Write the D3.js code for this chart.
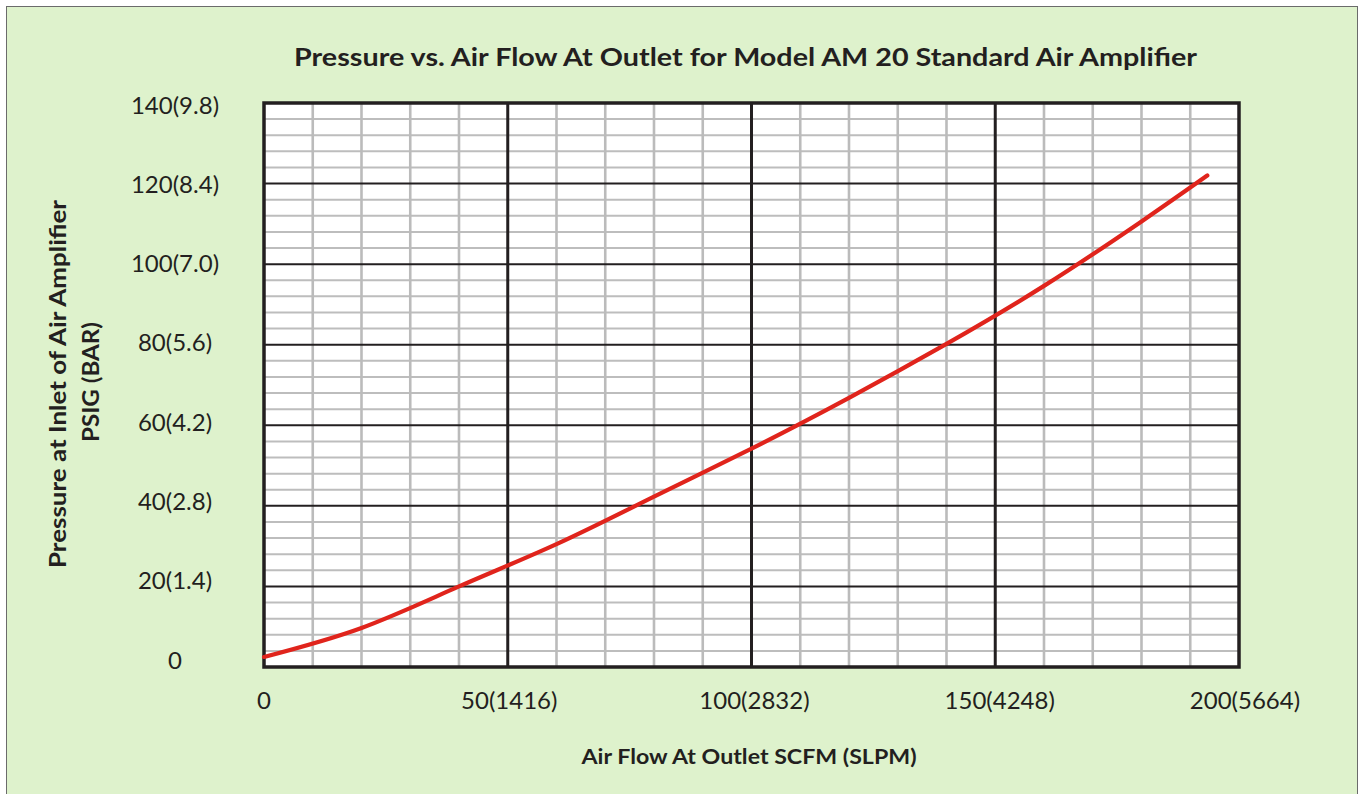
<!DOCTYPE html>
<html>
<head>
<meta charset="utf-8">
<script src="https://cdn.jsdelivr.net/npm/d3@7"></script>
<style>
  html, body { margin: 0; padding: 0; background: #ffffff; }
  svg { display: block; }
  text { font-family: Lato, "Open Sans", "DejaVu Sans", sans-serif; fill: #231F20; }
</style>
</head>
<body>
<svg id="chart" width="1359" height="794"></svg>
<script>
// ---- data ----
const flowSCFM = [0, 20, 40, 60, 80, 100, 120, 140, 160, 180, 193.5];
const pressurePSIG = [2.5, 9.7, 20.0, 30.5, 42.3, 54.2, 66.8, 80.2, 94.6, 110.6, 122.0];
const xTickValues = [0, 50, 100, 150, 200];
const xTickLabels = ["0", "50(1416)", "100(2832)", "150(4248)", "200(5664)"];
const yTickValues = [0, 20, 40, 60, 80, 100, 120, 140];
const yTickLabels = ["0", "20(1.4)", "40(2.8)", "60(4.2)", "80(5.6)", "100(7.0)", "120(8.4)", "140(9.8)"];
const titleText = "Pressure vs. Air Flow At Outlet for Model AM 20 Standard Air Amplifier";
const xTitle = "Air Flow At Outlet SCFM (SLPM)";
const yTitleLines = ["Pressure at Inlet of Air Amplifier", "PSIG (BAR)"];

const svg = d3.select("#chart");

// background panel
svg.append("rect").attr("x", 6.5).attr("y", 6.5).attr("width", 1351).attr("height", 800)
  .attr("fill", "#DEF2CC").attr("stroke", "#6b6b6b").attr("stroke-width", 1);

const plot = { left: 264, top: 103, right: 1239, bottom: 667 };

const x = d3.scaleLinear().domain([0, 200]).range([plot.left, plot.right]);
const y = d3.scaleLinear().domain([0, 140]).range([plot.bottom, plot.top]);

// plot area background
svg.append("rect").attr("x", plot.left).attr("y", plot.top)
  .attr("width", plot.right - plot.left).attr("height", plot.bottom - plot.top)
  .attr("fill", "#ffffff");

const g = svg.append("g");

// minor grid
const xMinor = d3.range(0, 201, 10).filter(v => v % 50 !== 0);
const yMinor = d3.range(0, 141, 4).filter(v => v % 20 !== 0);

g.selectAll(".hminor").data(yMinor).join("line")
  .attr("x1", plot.left).attr("x2", plot.right)
  .attr("y1", d => y(d)).attr("y2", d => y(d))
  .attr("stroke", "#BDBDBD").attr("stroke-width", 2);
g.selectAll(".vminor").data(xMinor).join("line")
  .attr("y1", plot.top).attr("y2", plot.bottom)
  .attr("x1", d => x(d)).attr("x2", d => x(d))
  .attr("stroke", "#BBBBBB").attr("stroke-width", 2.6);

// major grid
g.selectAll(".hmajor").data(yTickValues.filter(v => v > 0 && v < 140)).join("line")
  .attr("x1", plot.left).attr("x2", plot.right)
  .attr("y1", d => y(d)).attr("y2", d => y(d))
  .attr("stroke", "#231F20").attr("stroke-width", 2);
g.selectAll(".vmajor").data(xTickValues.filter(v => v > 0 && v < 200)).join("line")
  .attr("y1", plot.top).attr("y2", plot.bottom)
  .attr("x1", d => x(d)).attr("x2", d => x(d))
  .attr("stroke", "#231F20").attr("stroke-width", 3);

// frame
svg.append("rect").attr("x", plot.left).attr("y", plot.top)
  .attr("width", plot.right - plot.left).attr("height", plot.bottom - plot.top)
  .attr("fill", "none").attr("stroke", "#231F20").attr("stroke-width", 3.5);

// curve
const pts = flowSCFM.map((v, i) => [v, pressurePSIG[i]]);
const line = d3.line().x(d => x(d[0])).y(d => y(d[1])).curve(d3.curveNatural);
svg.append("path").datum(pts).attr("d", line)
  .attr("fill", "none").attr("stroke", "#E0241C").attr("stroke-width", 4.2)
  .attr("stroke-linecap", "round");

// y tick labels (Excel-style placement)
const yLab = d3.scaleLinear().domain([0, 140]).range([660, 105]);
svg.selectAll(".ylab").data(yTickValues).join("text")
  .attr("x", 175).attr("y", d => yLab(d)).attr("dy", "0.36em")
  .attr("text-anchor", "middle").attr("font-size", 24)
  .text((d, i) => yTickLabels[i]);

// x tick labels
const xLab = d3.scaleLinear().domain([0, 200]).range([264, 1245]);
svg.selectAll(".xlab").data(xTickValues).join("text")
  .attr("x", d => xLab(d)).attr("y", 700).attr("dy", "0.36em")
  .attr("text-anchor", "middle").attr("font-size", 24)
  .text((d, i) => xTickLabels[i]);

// title
svg.append("text").attr("x", 745.5).attr("y", 57).attr("dy", "0.36em")
  .attr("text-anchor", "middle").attr("font-size", 25).attr("font-weight", "bold")
  .attr("textLength", 903).attr("lengthAdjust", "spacingAndGlyphs")
  .text(titleText);

// x axis title
svg.append("text").attr("x", 749).attr("y", 756).attr("dy", "0.36em")
  .attr("text-anchor", "middle").attr("font-size", 21).attr("font-weight", "bold")
  .attr("textLength", 335).attr("lengthAdjust", "spacingAndGlyphs")
  .text(xTitle);

// y axis title
svg.append("text").attr("transform", "translate(58,384) rotate(-90)").attr("dy", "0.36em")
  .attr("text-anchor", "middle").attr("font-size", 22).attr("font-weight", "bold")
  .attr("textLength", 368).attr("lengthAdjust", "spacingAndGlyphs")
  .text(yTitleLines[0]);
svg.append("text").attr("transform", "translate(91,382) rotate(-90)").attr("dy", "0.36em")
  .attr("text-anchor", "middle").attr("font-size", 22).attr("font-weight", "bold")
  .attr("textLength", 120).attr("lengthAdjust", "spacingAndGlyphs")
  .text(yTitleLines[1]);
</script>
</body>
</html>
